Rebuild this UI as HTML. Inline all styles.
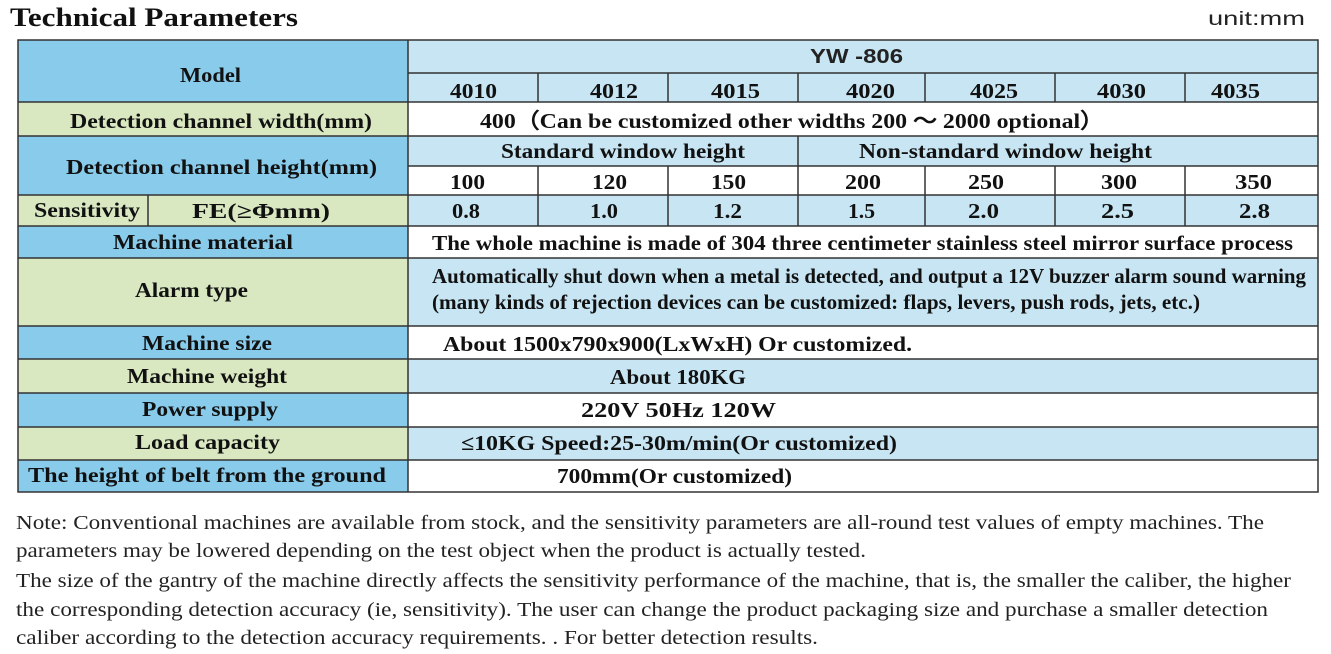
<!DOCTYPE html>
<html><head><meta charset="utf-8"><style>
html,body{margin:0;padding:0;background:#fff;}
svg{display:block;}
.b{font-family:"Liberation Serif",serif;font-weight:bold;fill:#111;}
.n{font-family:"Liberation Serif",serif;fill:#222;font-size:20px;}
.s{font-family:"Liberation Sans",sans-serif;fill:#222;}
</style></head><body>
<svg width="1331" height="654" xmlns="http://www.w3.org/2000/svg">
<text class="b" x="10" y="26" font-size="26" textLength="288" lengthAdjust="spacingAndGlyphs">Technical Parameters</text>
<text class="s" x="1208" y="25" font-size="19" textLength="97" lengthAdjust="spacingAndGlyphs">unit:mm</text>

<g stroke="none">
<rect x="18" y="40" width="390" height="62" fill="#89cbeb"/>
<rect x="18" y="102" width="390" height="34" fill="#d9e8c1"/>
<rect x="18" y="136" width="390" height="59" fill="#89cbeb"/>
<rect x="18" y="195" width="390" height="31" fill="#d9e8c1"/>
<rect x="18" y="226" width="390" height="32" fill="#89cbeb"/>
<rect x="18" y="258" width="390" height="68" fill="#d9e8c1"/>
<rect x="18" y="326" width="390" height="33" fill="#89cbeb"/>
<rect x="18" y="359" width="390" height="34" fill="#d9e8c1"/>
<rect x="18" y="393" width="390" height="34" fill="#89cbeb"/>
<rect x="18" y="427" width="390" height="33" fill="#d9e8c1"/>
<rect x="18" y="460" width="390" height="32" fill="#89cbeb"/>
<rect x="408" y="40" width="910" height="62" fill="#c7e5f3"/>
<rect x="408" y="102" width="910" height="34" fill="#fff"/>
<rect x="408" y="136" width="910" height="30" fill="#c7e5f3"/>
<rect x="408" y="166" width="910" height="29" fill="#fff"/>
<rect x="408" y="195" width="910" height="31" fill="#c7e5f3"/>
<rect x="408" y="226" width="910" height="32" fill="#fff"/>
<rect x="408" y="258" width="910" height="68" fill="#c7e5f3"/>
<rect x="408" y="326" width="910" height="33" fill="#fff"/>
<rect x="408" y="359" width="910" height="34" fill="#c7e5f3"/>
<rect x="408" y="393" width="910" height="34" fill="#fff"/>
<rect x="408" y="427" width="910" height="33" fill="#c7e5f3"/>
<rect x="408" y="460" width="910" height="32" fill="#fff"/>
</g>
<g stroke="#333" stroke-width="1.5" fill="none">
<rect x="18" y="40" width="1300" height="452"/>
<line x1="408" y1="40" x2="408" y2="492"/>
<path d="M18 102H1318M18 136H1318M18 195H1318M18 226H1318M18 258H1318M18 326H1318M18 359H1318M18 393H1318M18 427H1318M18 460H1318"/>
<path d="M408 73H1318M408 166H1318"/>
<path d="M538 73V102M668 73V102M798 73V102M925 73V102M1055 73V102M1185 73V102"/>
<path d="M798 136V166"/>
<path d="M538 166V226M668 166V226M798 166V226M925 166V226M1055 166V226M1185 166V226"/>
<path d="M148 195V226"/>
</g>

<g class="b" font-size="21">
<text x="180" y="82" textLength="61" lengthAdjust="spacingAndGlyphs">Model</text>
<text x="70" y="128" textLength="302" lengthAdjust="spacingAndGlyphs">Detection channel width(mm)</text>
<text x="66" y="174" textLength="311" lengthAdjust="spacingAndGlyphs">Detection channel height(mm)</text>
<text x="34" y="217" textLength="106" lengthAdjust="spacingAndGlyphs">Sensitivity</text>
<text x="192" y="218" textLength="138" lengthAdjust="spacingAndGlyphs">FE(≥Φmm)</text>
<text x="113" y="249" textLength="180" lengthAdjust="spacingAndGlyphs">Machine material</text>
<text x="135" y="297" textLength="113" lengthAdjust="spacingAndGlyphs">Alarm type</text>
<text x="142" y="350" textLength="130" lengthAdjust="spacingAndGlyphs">Machine size</text>
<text x="127" y="383" textLength="160" lengthAdjust="spacingAndGlyphs">Machine weight</text>
<text x="142" y="416" textLength="136" lengthAdjust="spacingAndGlyphs">Power supply</text>
<text x="135" y="449" textLength="145" lengthAdjust="spacingAndGlyphs">Load capacity</text>
<text x="28" y="482" textLength="358" lengthAdjust="spacingAndGlyphs">The height of belt from the ground</text>

<text x="450" y="98" textLength="47" lengthAdjust="spacingAndGlyphs">4010</text>
<text x="590" y="98" textLength="48" lengthAdjust="spacingAndGlyphs">4012</text>
<text x="711" y="98" textLength="49" lengthAdjust="spacingAndGlyphs">4015</text>
<text x="846" y="98" textLength="49" lengthAdjust="spacingAndGlyphs">4020</text>
<text x="970" y="98" textLength="48" lengthAdjust="spacingAndGlyphs">4025</text>
<text x="1097" y="98" textLength="49" lengthAdjust="spacingAndGlyphs">4030</text>
<text x="1211" y="98" textLength="49" lengthAdjust="spacingAndGlyphs">4035</text>

<text x="480" y="128" textLength="624" lengthAdjust="spacingAndGlyphs">400（Can be customized other widths 200 ～ 2000 optional）</text>
<text x="501" y="158" textLength="244" lengthAdjust="spacingAndGlyphs">Standard window height</text>
<text x="859" y="158" textLength="293" lengthAdjust="spacingAndGlyphs">Non-standard window height</text>

<text x="450" y="189" textLength="35" lengthAdjust="spacingAndGlyphs">100</text>
<text x="592" y="189" textLength="35" lengthAdjust="spacingAndGlyphs">120</text>
<text x="711" y="189" textLength="35" lengthAdjust="spacingAndGlyphs">150</text>
<text x="845" y="189" textLength="36" lengthAdjust="spacingAndGlyphs">200</text>
<text x="968" y="189" textLength="36" lengthAdjust="spacingAndGlyphs">250</text>
<text x="1101" y="189" textLength="36" lengthAdjust="spacingAndGlyphs">300</text>
<text x="1235" y="189" textLength="37" lengthAdjust="spacingAndGlyphs">350</text>

<text x="452" y="218" textLength="28" lengthAdjust="spacingAndGlyphs">0.8</text>
<text x="590" y="218" textLength="28" lengthAdjust="spacingAndGlyphs">1.0</text>
<text x="713" y="218" textLength="29" lengthAdjust="spacingAndGlyphs">1.2</text>
<text x="848" y="218" textLength="27" lengthAdjust="spacingAndGlyphs">1.5</text>
<text x="968" y="218" textLength="31" lengthAdjust="spacingAndGlyphs">2.0</text>
<text x="1101" y="218" textLength="33" lengthAdjust="spacingAndGlyphs">2.5</text>
<text x="1239" y="218" textLength="31" lengthAdjust="spacingAndGlyphs">2.8</text>

<text x="432" y="250" textLength="861" lengthAdjust="spacingAndGlyphs">The whole machine is made of 304 three centimeter stainless steel mirror surface process</text>
<text x="432" y="283" textLength="874" lengthAdjust="spacingAndGlyphs">Automatically shut down when a metal is detected, and output a 12V buzzer alarm sound warning</text>
<text x="432" y="309" textLength="768" lengthAdjust="spacingAndGlyphs">(many kinds of rejection devices can be customized: flaps, levers, push rods, jets, etc.)</text>
<text x="443" y="351" textLength="469" lengthAdjust="spacingAndGlyphs">About 1500x790x900(LxWxH) Or customized.</text>
<text x="610" y="384" textLength="136" lengthAdjust="spacingAndGlyphs">About 180KG</text>
<text x="581" y="417" textLength="195" lengthAdjust="spacingAndGlyphs">220V 50Hz   120W</text>
<text x="461" y="450" textLength="436" lengthAdjust="spacingAndGlyphs">≤10KG  Speed:25-30m/min(Or customized)</text>
<text x="557" y="483" textLength="235" lengthAdjust="spacingAndGlyphs">700mm(Or customized)</text>
</g>
<text class="s" x="810" y="63" font-size="20" font-weight="bold" fill="#111" textLength="93" lengthAdjust="spacingAndGlyphs">YW -806</text>

<g class="n">
<text x="16" y="529" textLength="1248" lengthAdjust="spacingAndGlyphs">Note: Conventional machines are available from stock, and the sensitivity parameters are all-round test values of empty machines. The</text>
<text x="16" y="557" textLength="850" lengthAdjust="spacingAndGlyphs">parameters may be lowered depending on the test object when the product is actually tested.</text>
<text x="16" y="587" textLength="1275" lengthAdjust="spacingAndGlyphs">The size of the gantry of the machine directly affects the sensitivity performance of the machine, that is, the smaller the caliber, the higher</text>
<text x="16" y="616" textLength="1252" lengthAdjust="spacingAndGlyphs">the corresponding detection accuracy (ie, sensitivity). The user can change the product packaging size and purchase a smaller detection</text>
<text x="16" y="644" textLength="802" lengthAdjust="spacingAndGlyphs">caliber according to the detection accuracy requirements. . For better detection results.</text>
</g>
</svg>
</body></html>
